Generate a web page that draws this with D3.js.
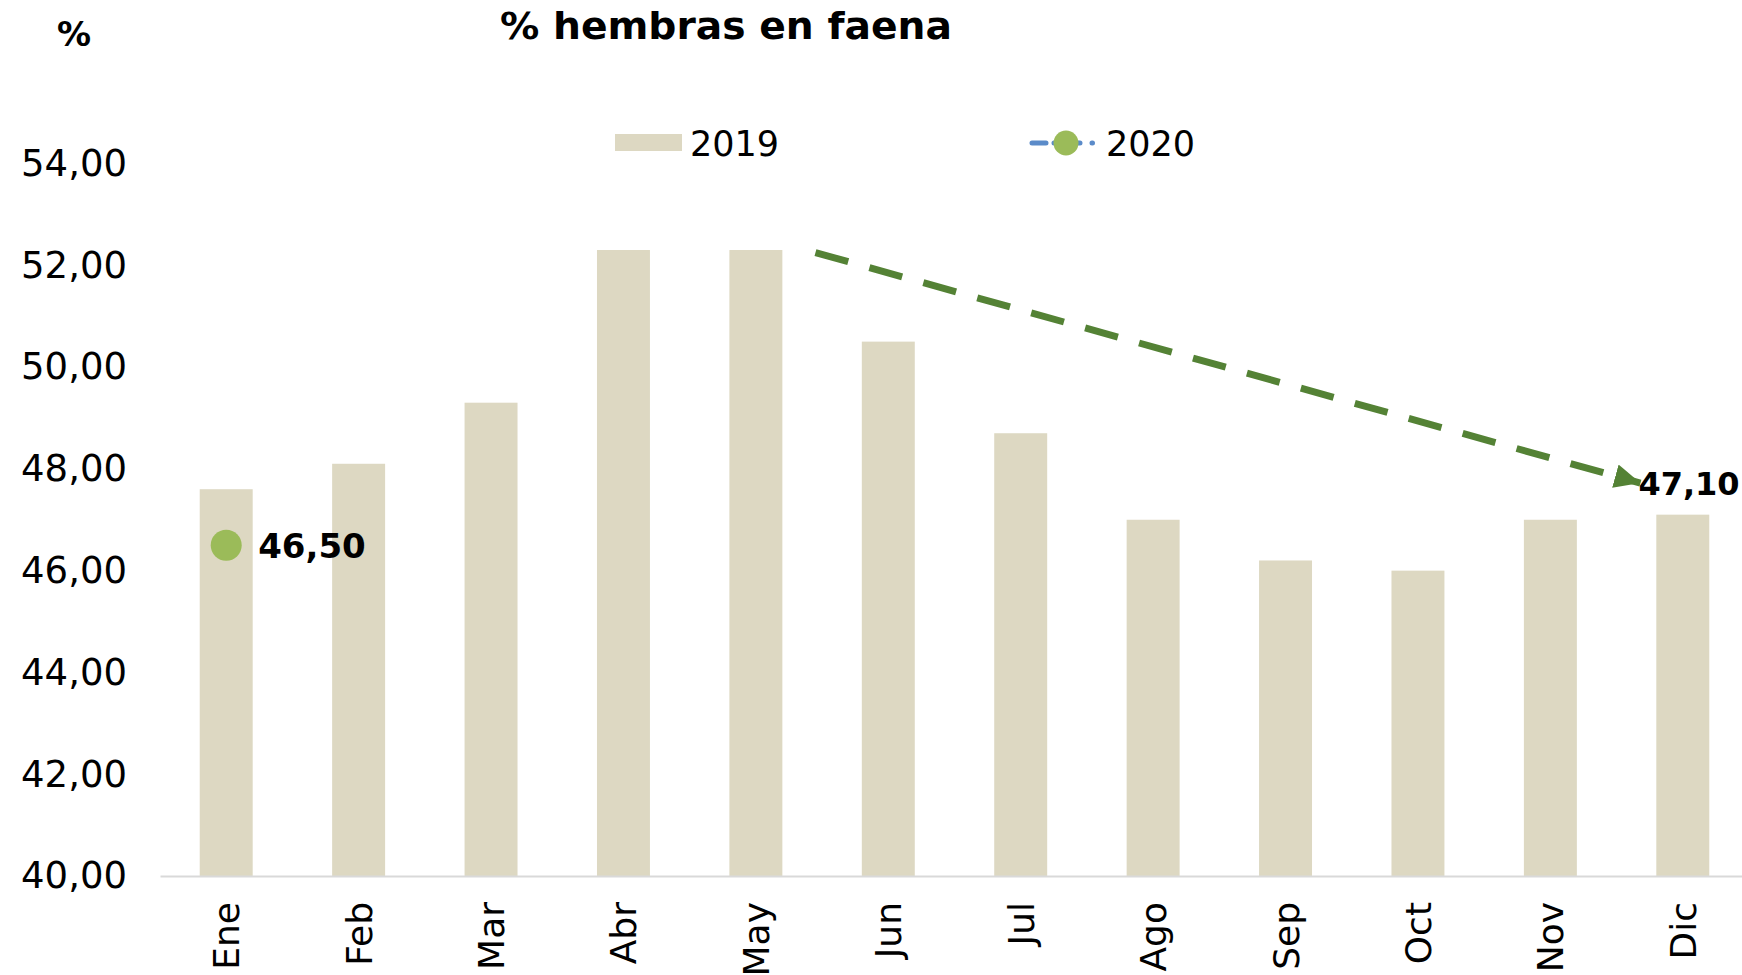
<!DOCTYPE html>
<html>
<head>
<meta charset="utf-8">
<script src="https://cdn.jsdelivr.net/npm/d3@7"></script>
<style>
  html, body { margin: 0; padding: 0; background: #ffffff; }
  svg { display: block; }
  text { font-family: "DejaVu Sans", sans-serif; fill: #000; }
</style>
</head>
<body>
<svg id="chart" width="1742" height="975"></svg>
<script>
// ---- data ----
const months = ["Ene","Feb","Mar","Abr","May","Jun","Jul","Ago","Sep","Oct","Nov","Dic"];
const values2019 = [47.6, 48.1, 49.3, 52.3, 52.3, 50.5, 48.7, 47.0, 46.2, 46.0, 47.0, 47.1];
const values2020 = [46.5, null, null, null, null, null, null, null, null, null, null, null];
const yTicks = [40, 42, 44, 46, 48, 50, 52, 54];
const seriesNames = ["2019", "2020"];
const titleText = "% hembras en faena";
const unitText = "%";
// trend annotation (category position, value)
const trendFrom = { pos: 4.45, value: 52.25 };
const trendTo = { pos: 10.68, value: 47.72 };
const trendLabel = "47,10";

const fmt = v => d3.format(".2f")(v).replace(".", ",");

const svg = d3.select("#chart");

const x = d3.scaleBand().domain(months).range([160, 1749]).paddingInner(0.6).paddingOuter(0.3);
const y = d3.scaleLinear().domain([40, 54]).range([876, 163.5]);
const xPos = p => x(months[0]) + x.bandwidth() / 2 + p * x.step();

// title + unit
svg.append("text").attr("x", 500).attr("y", 39)
  .attr("font-size", 38).attr("font-weight", "bold")
  .attr("textLength", 452).attr("lengthAdjust", "spacingAndGlyphs")
  .text(titleText);
svg.append("text").attr("x", 74).attr("y", 46).attr("text-anchor", "middle")
  .attr("font-size", 34).attr("font-weight", "bold").text(unitText);

// y axis labels (no axis line)
const yAxis = d3.axisLeft(y).tickValues(yTicks).tickFormat(fmt).tickSize(0).tickPadding(0);
const gy = svg.append("g").attr("transform", "translate(127,0)").call(yAxis);
gy.select(".domain").remove();
gy.selectAll("text").attr("font-size", 37).attr("font-family", "DejaVu Sans").attr("fill", "#000");

// bars
svg.append("g").selectAll("rect").data(values2019).join("rect")
  .attr("x", (d, i) => x(months[i]))
  .attr("y", d => y(d))
  .attr("width", x.bandwidth())
  .attr("height", d => y(40) - y(d))
  .attr("fill", "#ddd8c2");

// x axis
const xAxis = d3.axisBottom(x).tickSize(0).tickPadding(0);
const gx = svg.append("g").attr("transform", `translate(0,${y(40)})`).call(xAxis);
gx.select(".domain").attr("stroke", "#d9d9d9").attr("stroke-width", 2);
gx.selectAll("text")
  .attr("font-size", 36).attr("font-family", "DejaVu Sans").attr("fill", "#000")
  .attr("text-anchor", "end")
  .attr("transform", "translate(0,26) rotate(-90)")
  .attr("x", 0).attr("y", 0).attr("dy", "0.36em");

// 2020 series
const pts = values2020.map((v, i) => ({ v, i })).filter(d => d.v != null);
const line = d3.line().defined(d => d.v != null).x(d => x(months[d.i]) + x.bandwidth() / 2).y(d => y(d.v));
svg.append("path").datum(values2020.map((v, i) => ({ v, i })))
  .attr("d", line).attr("fill", "none").attr("stroke", "#5b8bc9").attr("stroke-width", 4)
  .attr("stroke-dasharray", "12 8");
svg.append("g").selectAll("circle").data(pts).join("circle")
  .attr("cx", d => x(months[d.i]) + x.bandwidth() / 2)
  .attr("cy", d => y(d.v)).attr("r", 15.5).attr("fill", "#9bbb59");
svg.append("g").selectAll("text").data(pts).join("text")
  .attr("x", d => x(months[d.i]) + x.bandwidth() / 2 + 32)
  .attr("y", d => y(d.v)).attr("dy", "0.38em")
  .attr("font-size", 34).attr("font-weight", "bold").text(d => fmt(d.v));

// trend arrow
const defs = svg.append("defs");
defs.append("marker").attr("id", "arrow").attr("markerUnits", "userSpaceOnUse")
  .attr("viewBox", "0 0 26 24").attr("refX", 26).attr("refY", 12)
  .attr("markerWidth", 26).attr("markerHeight", 24).attr("orient", "auto")
  .append("path").attr("d", "M0,0 L26,12 L0,24 Z").attr("fill", "#548235");
svg.append("line")
  .attr("x1", xPos(trendFrom.pos)).attr("y1", y(trendFrom.value))
  .attr("x2", xPos(trendTo.pos)).attr("y2", y(trendTo.value))
  .attr("stroke", "#548235").attr("stroke-width", 7)
  .attr("stroke-dasharray", "34 22")
  .attr("marker-end", "url(#arrow)");
svg.append("text").attr("x", xPos(trendTo.pos) - 2).attr("y", y(trendTo.value)).attr("dy", "0.38em")
  .attr("font-size", 32).attr("font-weight", "bold").text(trendLabel);

// legend
const lg = svg.append("g");
lg.append("rect").attr("x", 615).attr("y", 134).attr("width", 67).attr("height", 17).attr("fill", "#ddd8c2");
lg.append("text").attr("x", 690).attr("y", 143).attr("dy", "0.36em").attr("font-size", 35).text(seriesNames[0]);
lg.append("line").attr("x1", 1032).attr("x2", 1100).attr("y1", 143).attr("y2", 143)
  .attr("stroke", "#5b8bc9").attr("stroke-width", 5).attr("stroke-linecap", "round")
  .attr("stroke-dasharray", "14 8 26 12 0.5 30");
lg.append("circle").attr("cx", 1066).attr("cy", 143).attr("r", 12.5).attr("fill", "#9bbb59");
lg.append("text").attr("x", 1106).attr("y", 143).attr("dy", "0.36em").attr("font-size", 35).text(seriesNames[1]);
</script>
</body>
</html>
